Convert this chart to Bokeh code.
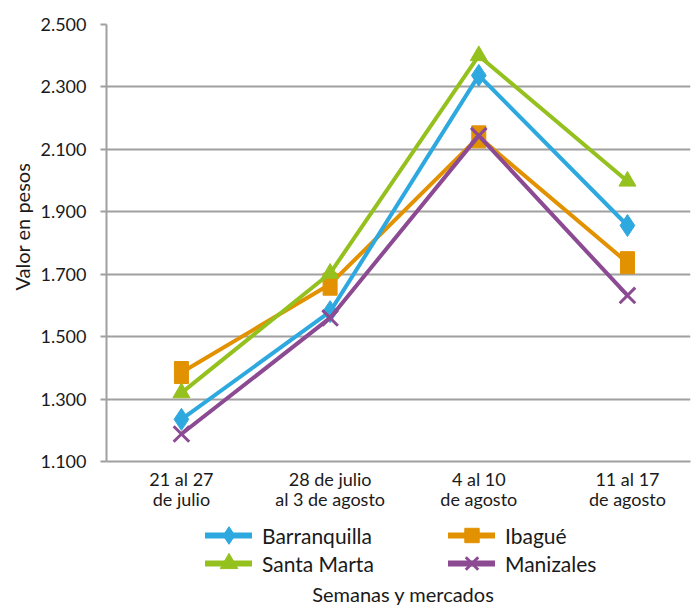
from bokeh.plotting import figure
from bokeh.layouts import column
from bokeh.models import FixedTicker, Legend, LegendItem, Label, Range1d, Title
from bokeh.embed import file_html
from bokeh.resources import INLINE

weeks = ["21 al 27\nde julio", "28 de julio\nal 3 de agosto", "4 al 10\nde agosto", "11 al 17\nde agosto"]
x_pos = [0, 1, 2, 3]
barranquilla = [1235, 1580, 2337, 1856]
ibague = [1385, 1668, 2140, 1737]
santa_marta = [1320, 1703, 2400, 1998]
manizales = [1188, 1560, 2144, 1632]
y_ticks = [1100, 1300, 1500, 1700, 1900, 2100, 2300, 2500]
y_tick_labels = ["1.100", "1.300", "1.500", "1.700", "1.900", "2.100", "2.300", "2.500"]

FONT = "Lato"
GRAY = "#a0a0a0"
TXT = "#1a1a1a"

p = figure(frame_width=584, frame_height=437, output_backend="svg", toolbar_location=None,
           x_range=Range1d(-0.504, 3.424), y_range=Range1d(1100, 2500),
           min_border_left=106, min_border_right=1, min_border_top=24, min_border_bottom=52)
p.outline_line_color = None

p.xaxis.ticker = FixedTicker(ticks=x_pos)
p.xaxis.major_label_overrides = {i: w for i, w in zip(x_pos, weeks)}
p.xaxis.major_tick_line_color = None
p.xaxis.minor_tick_line_color = None
p.xaxis.axis_line_color = GRAY
p.xaxis.axis_line_width = 2
p.xaxis.major_label_text_font = FONT
p.xaxis.major_label_text_font_size = "18px"
p.xaxis.major_label_text_color = TXT
p.xaxis.major_label_text_line_height = 0.95
p.xaxis.major_label_standoff = 0

p.yaxis.ticker = FixedTicker(ticks=y_ticks)
p.yaxis.major_label_overrides = {t: l for t, l in zip(y_ticks, y_tick_labels)}
p.yaxis.minor_tick_line_color = None
p.yaxis.major_tick_in = 0
p.yaxis.major_tick_out = 6
p.yaxis.major_tick_line_color = GRAY
p.yaxis.major_tick_line_width = 2
p.yaxis.axis_line_color = GRAY
p.yaxis.axis_line_width = 2
p.yaxis.major_label_text_font = FONT
p.yaxis.major_label_text_font_size = "18px"
p.yaxis.major_label_text_color = TXT
p.yaxis.major_label_standoff = 14

# y-axis title
p.add_layout(Title(text="Valor en pesos", align="left", offset=171, standoff=8,
                   text_font=FONT, text_font_size="20px", text_font_style="normal",
                   text_color=TXT), "left")

p.xgrid.grid_line_color = None
p.ygrid.grid_line_color = GRAY
p.ygrid.grid_line_width = 2

C_BAR, C_IBA, C_SMA, C_MAN = "#2ea9df", "#e29100", "#95c11f", "#8b4a92"

# Ibagué
p.line(x_pos, ibague, line_color=C_IBA, line_width=4)
p.rect(x_pos, ibague, width=14, height=22, width_units="screen", height_units="screen",
       fill_color=C_IBA, line_color=C_IBA)
# Santa Marta
p.line(x_pos, santa_marta, line_color=C_SMA, line_width=4)
p.scatter(x_pos, santa_marta, marker="triangle", size=17, fill_color=C_SMA, line_color=C_SMA)
# Barranquilla
p.line(x_pos, barranquilla, line_color=C_BAR, line_width=4)
p.scatter(x_pos, barranquilla, marker="diamond", size=22, fill_color=C_BAR, line_color=C_BAR)
# Manizales
p.line(x_pos, manizales, line_color=C_MAN, line_width=4)
p.scatter(x_pos, manizales, marker="x", size=22, line_color=C_MAN, line_width=3)

# legend / x-title strip (its frame starts at x=106, aligned with the chart)
q = figure(width=691, height=94, output_backend="svg", toolbar_location=None,
           x_range=Range1d(0, 1), y_range=Range1d(0, 1),
           min_border_left=106, min_border_right=1, min_border_top=0, min_border_bottom=0)
q.axis.visible = False
q.grid.visible = False
q.outline_line_color = None

def legend_entry(name, vals, color, marker):
    # series drawn out of this strip's view; only their legend glyphs show
    l = q.line(x_pos, vals, line_color=color, line_width=6, line_cap="round")
    if marker == "x":
        s = q.scatter(x_pos, vals, marker="x", line_color=color, line_width=3)
    else:
        s = q.scatter(x_pos, vals, marker=marker, fill_color=color, line_color=color)
    return LegendItem(label=name, renderers=[l, s])

entries = [
    (legend_entry("Barranquilla", barranquilla, C_BAR, "diamond"), 99, 72, 44),
    (legend_entry("Ibagué", ibague, C_IBA, "square"), 342, 72, 36),
    (legend_entry("Santa Marta", santa_marta, C_SMA, "triangle"), 99, 44, 44),
    (legend_entry("Manizales", manizales, C_MAN, "x"), 342, 44, 44),
]

for item, xloc, yc, gh in entries:
    lg = Legend(items=[item], location=(xloc, yc - gh // 2), orientation="vertical")
    lg.border_line_color = None
    lg.background_fill_alpha = 0
    lg.label_text_font = FONT
    lg.label_text_font_size = "21px"
    lg.label_text_color = TXT
    lg.label_text_baseline = "middle"
    lg.glyph_width = 47
    lg.glyph_height = gh
    lg.label_height = gh
    lg.spacing = 0
    lg.label_standoff = 10
    lg.padding = 0
    lg.margin = 0
    q.add_layout(lg)

q.add_layout(Label(x=297, y=14, x_units="screen", y_units="screen", text="Semanas y mercados",
                   text_align="center", text_baseline="middle", text_font=FONT,
                   text_font_size="20px", text_color=TXT))

open("out.html", "w").write(file_html(column(p, q, spacing=0), INLINE))
